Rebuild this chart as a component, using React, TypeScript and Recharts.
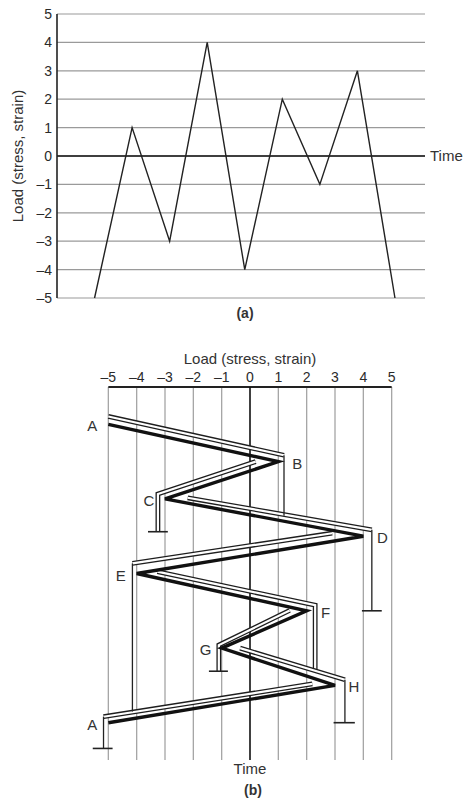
import {
  LineChart,
  Line,
  ScatterChart,
  Scatter,
  XAxis,
  YAxis,
  CartesianGrid,
  ReferenceLine,
} from "recharts";

const loadTicks = [-5, -4, -3, -2, -1, 0, 1, 2, 3, 4, 5];
const timeSteps = [0, 1, 2, 3, 4, 5, 6, 7, 8];
const loadHistory = [-5, 1, -3, 4, -4, 2, -1, 3, -5];
const pointNames = ["A", "B", "C", "D", "E", "F", "G", "H", "A"];

// rain flow roofs, [load, time]
const flowAB = [[-5, -0.21], [1.2, 0.83]];
const flowBC = [[0.2, 1.0], [-3.25, 1.87], [-3.25, 2.88]];
const flowCD = [[-2.2, 1.97], [4.3, 2.83]];
const flowDE = [[2.9, 2.92], [-4.15, 3.73]];
const flowEF = [[-3.27, 3.95], [2.3, 4.85], [2.3, 6.6]];
const flowFG = [[1.4, 4.99], [-1.1, 5.92], [-1.1, 6.62]];
const flowGH = [[-0.35, 6.0], [3.35, 6.85]];
const flowHA = [[2.2, 6.96], [-5.17, 7.84]];

// drips falling off the roofs
const dripB = [[1.2, 0.83], [1.2, 2.45]];
const dripD = [[4.3, 2.83], [4.3, 5.0]];
const dripE = [[-4.15, 3.73], [-4.15, 7.7]];
const dripH = [[3.35, 6.85], [3.35, 8.0]];
const dripA = [[-5.17, 7.84], [-5.17, 8.69]];

// where the flow stops
const stopC = [[-3.6, 2.88], [-2.9, 2.88]];
const stopD = [[3.95, 5.0], [4.65, 5.0]];
const stopG = [[-1.45, 6.62], [-0.78, 6.62]];
const stopH = [[2.95, 8.0], [3.7, 8.0]];
const stopA = [[-5.55, 8.69], [-4.85, 8.69]];

const FONT = '"Liberation Sans", Arial, sans-serif';
const INK = "#333";

const fmt = (v: number) => (v < 0 ? `\u2013${-v}` : `${v}`);
const toPoints = (pairs: number[][]) => pairs.map(([load, t]) => ({ load, t }));

const seriesA = timeSteps.map((t, i) => ({ t, load: loadHistory[i] }));
const historyData = timeSteps.map((t, i) => ({ t, load: loadHistory[i], name: pointNames[i] }));

const flows = [flowAB, flowBC, flowCD, flowDE, flowEF, flowFG, flowGH, flowHA];
const drips = [dripB, dripD, dripE, dripH, dripA];
const stops = [stopC, stopD, stopG, stopH, stopA];

const NoDot = () => <g />;

const DoubleLine = (props: any) => {
  const pts = props.points || [];
  const d = pts.map((p: any, i: number) => `${i ? "L" : "M"}${p.x},${p.y}`).join(" ");
  return (
    <g>
      <path d={d} fill="none" stroke="#1e1e1e" strokeWidth={4.8} />
      <path d={d} fill="none" stroke="#fff" strokeWidth={2.2} />
    </g>
  );
};

const isPeak = (i: number) => {
  const n = i === 0 ? loadHistory[1] : loadHistory[i - 1];
  return loadHistory[i] > n;
};

const PointLabel = (props: any) => {
  const { cx, cy, payload } = props;
  const i = timeSteps.indexOf(payload.t);
  const right = isPeak(i);
  return (
    <text
      x={cx + (right ? 19 : -16)}
      y={cy + 7}
      textAnchor="middle"
      fontSize={15}
      fill={INK}
      fontFamily={FONT}
    >
      {payload.name}
    </text>
  );
};

const tickStyle = { fill: "#2a2a2a", fontSize: 14, fontFamily: FONT };

const caption = (top: number, left: number): React.CSSProperties => ({
  position: "absolute",
  top,
  left,
  width: 40,
  textAlign: "center",
  fontFamily: FONT,
  fontWeight: "bold",
  fontSize: 14,
  color: INK,
  lineHeight: "16px",
});

export default function App() {
  return (
    <div
      style={{
        position: "absolute",
        left: 0,
        top: 0,
        width: 463,
        height: 804,
        background: "#fff",
        fontFamily: FONT,
      }}
    >
      <LineChart
        width={463}
        height={320}
        data={seriesA}
        margin={{ top: 14, right: 38, bottom: 22, left: 0 }}
      >
        <CartesianGrid vertical={false} stroke="#9a9a9a" strokeWidth={1.2} />
        <XAxis type="number" dataKey="t" domain={[-1, 8.8]} hide />
        <YAxis
          type="number"
          domain={[-5, 5]}
          ticks={loadTicks}
          interval={0}
          width={57}
          tickFormatter={fmt}
          tickLine={false}
          tickSize={4}
          tickMargin={1}
          axisLine={{ stroke: "#222", strokeWidth: 1.6 }}
          tick={tickStyle}
          label={{
            value: "Load (stress, strain)",
            angle: -90,
            position: "center",
            dx: -11,
            fill: INK,
            fontSize: 15,
            fontFamily: FONT,
          }}
        />
        <ReferenceLine
          y={0}
          stroke="#111"
          strokeWidth={1.6}
          label={{ value: "Time", position: "right", fill: INK, fontSize: 15, fontFamily: FONT }}
        />
        <Line
          type="linear"
          dataKey="load"
          stroke="#222"
          strokeWidth={1.4}
          dot={false}
          isAnimationActive={false}
        />
      </LineChart>
      <div style={caption(305, 225)}>(a)</div>

      <div style={{ position: "absolute", top: 330, left: 0 }}>
        <ScatterChart
          width={463}
          height={474}
          margin={{ top: 21, right: 43, bottom: 44, left: 80 }}
        >
          <XAxis
            type="number"
            dataKey="load"
            orientation="top"
            domain={[-6, 6]}
            ticks={loadTicks}
            interval={0}
            height={36}
            tickFormatter={fmt}
            tickLine={false}
            tickSize={3}
            tickMargin={2}
            axisLine={false}
            tick={tickStyle}
            label={{
              value: "Load (stress, strain)",
              position: "insideTop",
              offset: 2,
              fill: INK,
              fontSize: 15,
              fontFamily: FONT,
            }}
          />
          <YAxis type="number" dataKey="t" domain={[-1, 9]} reversed hide />
          {loadTicks
            .filter((v) => v !== 0)
            .map((v) => (
              <ReferenceLine
                key={`grid-${v}`}
                segment={[
                  { x: v, y: -1 },
                  { x: v, y: 9 },
                ]}
                stroke="#a5a5a5"
                strokeWidth={1.3}
              />
            ))}
          <ReferenceLine
            segment={[
              { x: -5, y: -1 },
              { x: 5, y: -1 },
            ]}
            stroke="#222"
            strokeWidth={2}
          />
          <ReferenceLine
            x={0}
            stroke="#111"
            strokeWidth={1.6}
            label={{ value: "Time", position: "bottom", offset: 3, fill: INK, fontSize: 15, fontFamily: FONT }}
          />
          {flows.map((f, i) => (
            <Scatter
              key={`flow-${i}`}
              data={toPoints(f)}
              line={DoubleLine}
              shape={NoDot}
              isAnimationActive={false}
            />
          ))}
          {drips.map((f, i) => (
            <Scatter
              key={`drip-${i}`}
              data={toPoints(f)}
              line={{ stroke: "#222", strokeWidth: 1.3 }}
              shape={NoDot}
              isAnimationActive={false}
            />
          ))}
          {stops.map((f, i) => (
            <Scatter
              key={`stop-${i}`}
              data={toPoints(f)}
              line={{ stroke: "#222", strokeWidth: 1.6 }}
              shape={NoDot}
              isAnimationActive={false}
            />
          ))}
          <Scatter
            data={historyData}
            line={{ stroke: "#111", strokeWidth: 3.4 }}
            shape={PointLabel}
            isAnimationActive={false}
          />
        </ScatterChart>
      </div>
      <div style={caption(782, 233)}>(b)</div>
    </div>
  );
}
